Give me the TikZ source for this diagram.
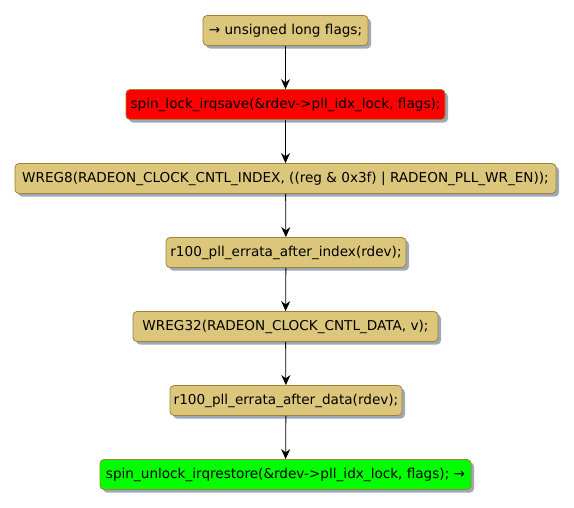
\documentclass[tikz,border=0pt]{standalone}
\usepackage{fontspec}
\setmainfont{DejaVu Sans}
\usetikzlibrary{shadows,arrows.meta}
\definecolor{boxfill}{RGB}{220,198,124}
\definecolor{boxdraw}{RGB}{160,130,50}
\definecolor{shadowc}{RGB}{150,158,175}
\tikzset{
  act/.style={draw=boxdraw, line width=0.8pt, fill=boxfill, rounded corners=4pt,
    minimum height=30pt, inner xsep=2pt, inner ysep=0pt, anchor=center,
    font=\fontsize{13.6}{16}\selectfont,
    drop shadow={shadow xshift=3pt, shadow yshift=-3pt, fill=shadowc, opacity=0.9}},
  flow/.style={-{Stealth[length=10pt,width=9pt]}, line width=0.8pt, black}
}
\begin{document}
\begin{tikzpicture}[x=1pt,y=1pt]
\useasboundingbox (0,0) rectangle (574,-507);
\node[act, minimum width=165pt] (n1) at (285.5,-30.5) {→ unsigned long flags;};
\node[act, minimum width=319pt, fill=red] (n2) at (285.5,-104.5) {spin\_lock\_irqsave(\&rdev->pll\_idx\_lock, flags);};
\node[act, minimum width=541pt] (n3) at (285.5,-178.5) {WREG8(RADEON\_CLOCK\_CNTL\_INDEX, ((reg \& 0x3f) | RADEON\_PLL\_WR\_EN));};
\node[act, minimum width=240pt] (n4) at (286,-252.5) {r100\_pll\_errata\_after\_index(rdev);};
\node[act, minimum width=305pt] (n5) at (285.5,-326.5) {WREG32(RADEON\_CLOCK\_CNTL\_DATA, v);};
\node[act, minimum width=232pt] (n6) at (286,-400.5) {r100\_pll\_errata\_after\_data(rdev);};
\node[act, minimum width=371pt, fill=green] (n7) at (285.5,-474.5) {spin\_unlock\_irqrestore(\&rdev->pll\_idx\_lock, flags); →};
\draw[flow] (n1) -- (n2);
\draw[flow] (n2) -- (n3);
\draw[flow] (n3) -- (n4);
\draw[flow] (n4) -- (n5);
\draw[flow] (n5) -- (n6);
\draw[flow] (n6) -- (n7);
\end{tikzpicture}
\end{document}
